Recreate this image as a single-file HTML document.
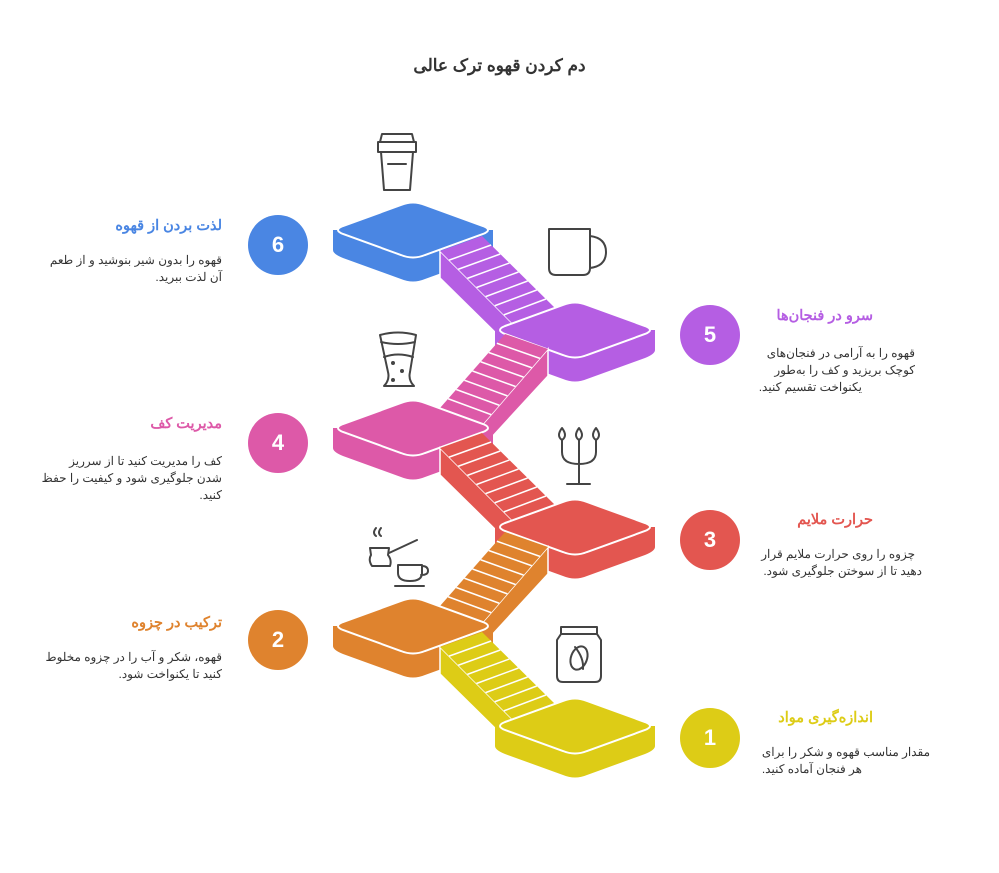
<!DOCTYPE html>
<html><head><meta charset="utf-8"><style>
body{margin:0;width:999px;height:873px;background:#fff;overflow:hidden;position:relative;font-family:"Liberation Sans","Noto Sans CJK SC",sans-serif}
svg{position:absolute;left:0;top:0}
.t{position:absolute;direction:rtl;white-space:nowrap;font-weight:bold;font-size:14.5px}
.l{position:absolute;direction:rtl;white-space:nowrap;font-size:12px;color:#333}
.n{position:absolute;width:60px;height:60px;border-radius:50%;color:#fff;font-weight:bold;font-size:22px;text-align:center;line-height:60px}
</style></head><body>
<svg id="s" width="999" height="873" viewBox="0 0 999 873">
<defs>
<g id="side"><path d="M -80,0 L -80,20 Q -80,24 -70,28 L -12,49 Q 0,54 12,49 L 70,28 Q 80,24 80,20 L 80,0 Z"/></g>
<path id="top" d="M -70,-4 L -12,-25 Q 0,-30 12,-25 L 70,-4 Q 80,0 70,4 L 12,25 Q 0,30 -12,25 L -70,4 Q -80,0 -70,-4 Z"/>
</defs>
<g id="g"></g>
<g fill="none" stroke="#444" stroke-width="2" stroke-linecap="round" stroke-linejoin="round">
<path d="M382,134 H412 L414,142 H380 Z M378,142 H416 V152 H378 Z M381,152 L384,190 H410 L413,152 M388,164 H406"/>
<path d="M549,229 H590 V268 Q590,275 583,275 H556 Q549,275 549,268 Z M590,236 Q606,238 606,252 Q606,266 590,268"/>
<path d="M380,335 Q398,330 416,335 L410,372 Q408,380 414,386 H384 Q390,380 388,372 Z M381,342 Q398,346 415,342 M384,357 Q398,352 413,357"/>
<circle cx="393" cy="363" r="1" fill="#444"/><circle cx="402" cy="371" r="1" fill="#444"/><circle cx="393" cy="380" r="1" fill="#444"/>
<path d="M562,428 Q556,436 562,440 Q568,436 562,428 Z M579,428 Q573,436 579,440 Q585,436 579,428 Z M596,428 Q590,436 596,440 Q602,436 596,428 Z M562,440 V452 Q562,464 579,464 Q596,464 596,452 V440 M579,440 V484 M567,484 H590"/>
<path d="M376,528 Q372,533 376,536 M381,528 Q377,533 381,536 M370,548 H389 L388,555 Q392,560 390,566 H372 Q368,560 371,555 Z M389,553 L417,540 M398,565 H422 V573 Q422,581 410,581 Q398,581 398,573 Z M422,566 Q428,566 428,571 Q428,575 421,575 M395,586 H424"/>
<path d="M561,627 H597 V634 L601,640 V676 Q601,682 595,682 H563 Q557,682 557,676 V640 L561,634 Z M561,634 H597"/>
<ellipse cx="579" cy="658" rx="8" ry="12" transform="rotate(20 579 658)"/>
<path d="M575,647 Q584,658 583,669"/>
</g>
</svg>
<div class="t" style="left:0;width:999px;text-align:center;top:56px;font-size:17px;color:#333;direction:rtl">دم کردن قهوه ترک عالی</div>

<div class="n" style="left:248px;top:215px;background:#4a86e3">6</div>
<div class="n" style="left:680px;top:305px;background:#b55ee3">5</div>
<div class="n" style="left:248px;top:413px;background:#dd59a8">4</div>
<div class="n" style="left:680px;top:510px;background:#e35650">3</div>
<div class="n" style="left:248px;top:610px;background:#df832e">2</div>
<div class="n" style="left:680px;top:708px;background:#ddcc16">1</div>

<div class="t" style="right:777px;top:218px;color:#4a86e3">لذت بردن از قهوه</div>
<div class="l" style="right:777px;top:253px">قهوه را بدون شیر بنوشید و از طعم</div>
<div class="l" style="right:777px;top:270px">آن لذت ببرید.</div>

<div class="t" style="right:126px;top:308px;color:#b55ee3">سرو در فنجان‌ها</div>
<div class="l" style="right:84px;top:346px">قهوه را به آرامی در فنجان‌های</div>
<div class="l" style="right:84px;top:363px">کوچک بریزید و کف را به‌طور</div>
<div class="l" style="right:137px;top:380px">یکنواخت تقسیم کنید.</div>

<div class="t" style="right:777px;top:416px;color:#dd59a8">مدیریت کف</div>
<div class="l" style="right:777px;top:454px">کف را مدیریت کنید تا از سرریز</div>
<div class="l" style="right:777px;top:471px">شدن جلوگیری شود و کیفیت را حفظ</div>
<div class="l" style="right:777px;top:488px">کنید.</div>

<div class="t" style="right:126px;top:512px;color:#e35650">حرارت ملایم</div>
<div class="l" style="right:84px;top:547px">چزوه را روی حرارت ملایم قرار</div>
<div class="l" style="right:77px;top:564px">دهید تا از سوختن جلوگیری شود.</div>

<div class="t" style="right:777px;top:615px;color:#df832e">ترکیب در چزوه</div>
<div class="l" style="right:777px;top:650px">قهوه، شکر و آب را در چزوه مخلوط</div>
<div class="l" style="right:777px;top:667px">کنید تا یکنواخت شود.</div>

<div class="t" style="right:126px;top:710px;color:#ddcc16">اندازه‌گیری مواد</div>
<div class="l" style="right:69px;top:745px">مقدار مناسب قهوه و شکر را برای</div>
<div class="l" style="right:137px;top:762px">هر فنجان آماده کنید.</div>

<script>
var NS="http://www.w3.org/2000/svg",g=document.getElementById("g");
function el(t,a){var e=document.createElementNS(NS,t);for(var k in a)e.setAttribute(k,a[k]);g.appendChild(e);return e;}
function P(p,cx,cy){return p.map(function(q){return (q[0]+cx)+","+(q[1]+cy)}).join(" ");}
function lerp(a,b,t){return [a[0]+(b[0]-a[0])*t,a[1]+(b[1]-a[1])*t];}
function platform(cx,cy,c){
 el("use",{href:"#side",x:cx,y:cy,fill:c});
 el("use",{href:"#top",x:cx,y:cy,fill:c,stroke:"#fff","stroke-width":2});
}
function stair(cx,cy,c,dir){
 var A,B,C,D,side;
 if(dir>0){A=[-135,-79];B=[-93,-94];C=[-20,-22];D=[-62,-6];side=[A,[-135,-52],[-70,12],D];}
 else{A=[135,-79];B=[92,-94];C=[27,-20];D=[70,-4];side=[A,[135,-52],[78,10],D];}
 el("polygon",{points:P(side,cx,cy),fill:c,stroke:"#fff","stroke-width":1.5});
 el("polygon",{points:P([A,B,C,D],cx,cy),fill:c});
 for(var i=1;i<8;i++){var t=i/8,p=lerp(A,D,t),q=lerp(B,C,t);
  el("line",{x1:p[0]+cx,y1:p[1]+cy,x2:q[0]+cx,y2:q[1]+cy,stroke:"#fff","stroke-width":1.5});}
}
var L=[[413,230,"#4a86e3"],[575,330,"#b55ee3"],[413,428,"#dd59a8"],[575,527,"#e35650"],[413,626,"#df832e"],[575,726,"#ddcc16"]];
for(var i=0;i<L.length;i++){
 if(i>0)stair(L[i][0],L[i][1],L[i][2],(i%2==1)?1:-1);
 platform(L[i][0],L[i][1],L[i][2]);
}
</script>
</body></html>
